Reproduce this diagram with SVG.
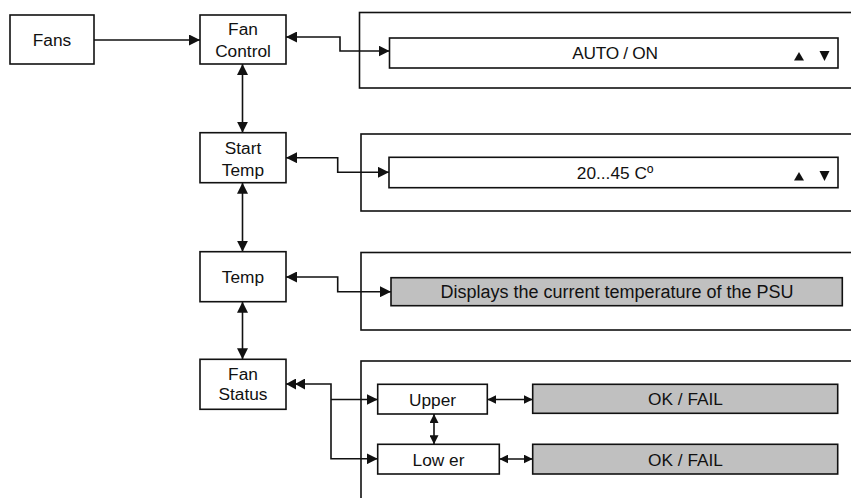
<svg xmlns="http://www.w3.org/2000/svg" width="851" height="498" viewBox="0 0 851 498">
<style>
.box{fill:#fff;stroke:#111;stroke-width:1.6}
.gbox{fill:#c0c0c0;stroke:#111;stroke-width:1.6}
.panel{fill:none;stroke:#111;stroke-width:1.6}
.t{font-family:"Liberation Sans",Arial,sans-serif;font-size:17.3px;fill:#111;text-anchor:middle}
.c{fill:none;stroke:#111;stroke-width:1.6}
.tri{fill:#111}
.a{marker-end:url(#ah)}
.ab{marker-start:url(#ah);marker-end:url(#ah)}
.sb{marker-start:url(#sh);marker-end:url(#sh)}
</style>
<defs>
<marker id="ah" viewBox="0 0 11 11" refX="11" refY="5.5" markerWidth="11" markerHeight="11" markerUnits="userSpaceOnUse" orient="auto-start-reverse"><path d="M0,0 L11,5.5 L0,11 z" fill="#111"/></marker>
<marker id="sh" viewBox="0 0 9 9" refX="9" refY="4.5" markerWidth="9" markerHeight="9" markerUnits="userSpaceOnUse" orient="auto-start-reverse"><path d="M0,0 L9,4.5 L0,9 z" fill="#111"/></marker>
<marker id="dh" viewBox="0 0 19 11" refX="19" refY="5.5" markerWidth="19" markerHeight="11" markerUnits="userSpaceOnUse" orient="auto-start-reverse"><path d="M0,0 L10,5.5 L0,11 z M9,0 L19,5.5 L9,11 z" fill="#111"/></marker>
</defs>

<g id="panels">
<rect class="panel" x="359.5" y="12.5" width="520" height="75.5"/>
<rect class="panel" x="361" y="134" width="520" height="77"/>
<rect class="panel" x="361" y="252.5" width="520" height="77.5"/>
<rect class="panel" x="361" y="361" width="520" height="160"/>
</g>

<g id="connectors">
<path class="c a" d="M94,40 H200"/>
<path class="c ab" d="M286,37 H340 V51 H389.5"/>
<path class="c ab" d="M242.5,64 V132.7"/>
<path class="c ab" d="M286,157.7 H337.7 V172.3 H389"/>
<path class="c ab" d="M242.5,182.7 V251.7"/>
<path class="c ab" d="M286,277 H337.7 V291.7 H391"/>
<path class="c ab" d="M242.5,301.7 V359.3"/>
<path class="c" d="M286,384 H331 V458.8 H377.7" style="marker-start:url(#dh);marker-end:url(#ah)"/>
<path class="c a" d="M331,399.5 H377.7"/>
<path class="c sb" d="M434,414 V444.3"/>
<path class="c sb" d="M487.3,399.5 H532.7"/>
<path class="c sb" d="M499.3,459 H532.7"/>
</g>

<g id="fans">
<rect class="box" x="10" y="15" width="84" height="49"/>
<text class="t" x="52" y="46">Fans</text>
</g>

<g id="fan-control">
<rect class="box" x="200" y="15" width="86" height="49"/>
<text class="t" x="243" y="35">Fan</text>
<text class="t" x="243" y="57">Control</text>
</g>

<g id="start-temp">
<rect class="box" x="200" y="132.7" width="86" height="50"/>
<text class="t" x="243" y="154">Start</text>
<text class="t" x="243" y="175.5">Temp</text>
</g>

<g id="temp">
<rect class="box" x="200" y="251.7" width="86" height="50"/>
<text class="t" x="243" y="283">Temp</text>
</g>

<g id="fan-status">
<rect class="box" x="200" y="359.3" width="86" height="50"/>
<text class="t" x="243" y="379.5">Fan</text>
<text class="t" x="243" y="399.5">Status</text>
</g>

<g id="fan-control-setting">
<rect class="box" x="389.5" y="38" width="448.5" height="30"/>
<text class="t" x="615" y="59" letter-spacing="-0.3">AUTO / ON</text>
<polygon class="tri" points="794,60.5 799,52 804,60.5"/>
<polygon class="tri" points="819.5,51 829.5,51 824.5,61"/>
</g>

<g id="start-temp-setting">
<rect class="box" x="389" y="157.3" width="449" height="30.4"/>
<text class="t" x="615" y="179">20...45 Cº</text>
<polygon class="tri" points="794,180.5 799,172 804,180.5"/>
<polygon class="tri" points="819.5,171 829.5,171 824.5,181"/>
</g>

<g id="temp-display">
<rect class="gbox" x="391" y="277.7" width="451.3" height="28"/>
<text class="t" x="617" y="298" style="font-size:18px">Displays the current temperature of the PSU</text>
</g>

<g id="upper">
<rect class="box" x="377.7" y="384.3" width="109.6" height="29.7"/>
<text class="t" x="432.5" y="405.5">Upper</text>
</g>

<g id="lower">
<rect class="box" x="377.7" y="444.3" width="121.6" height="29.7"/>
<text class="t" x="438.5" y="465.5">Low er</text>
</g>

<g id="upper-status">
<rect class="gbox" x="532.7" y="384.3" width="305" height="29"/>
<text class="t" x="685.5" y="405">OK / FAIL</text>
</g>

<g id="lower-status">
<rect class="gbox" x="532.7" y="444.3" width="305" height="29.7"/>
<text class="t" x="685.5" y="465.5">OK / FAIL</text>
</g>
</svg>
